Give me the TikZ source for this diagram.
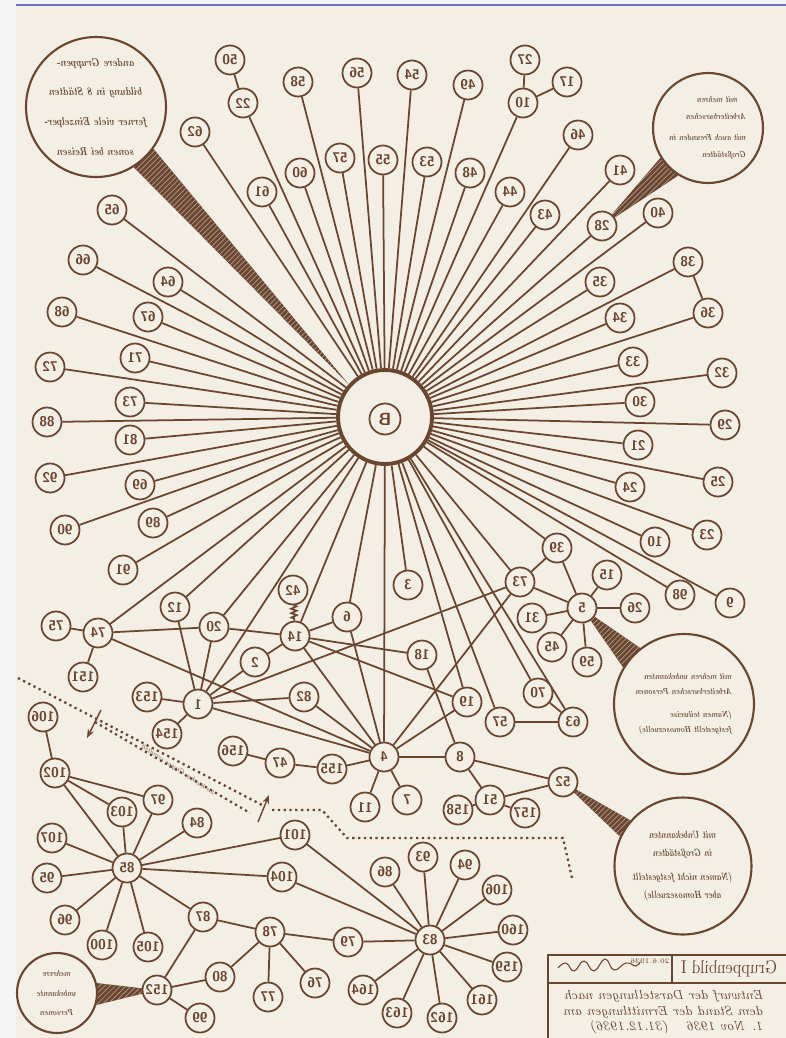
\documentclass[tikz,border=0pt]{standalone}
\usepackage{tikz}
\usetikzlibrary{backgrounds,patterns,decorations.pathmorphing,arrows.meta}

\definecolor{ink}{HTML}{6A4530}
\definecolor{paper}{HTML}{F3EFE4}

\begin{document}
\begin{tikzpicture}[x=0.02cm, y=-0.02cm,
    pers/.style={circle, draw=ink, line width=1pt, fill=paper, minimum size=0.58cm, inner sep=0pt,
        text=ink, font=\sffamily\bfseries\fontsize{8}{8}\selectfont, xscale=-1},
    note/.style={circle, draw=ink, line width=1.2pt, fill=paper, inner sep=0pt},
    notetxt/.style={xscale=-0.8, text=ink, inner sep=0pt},
    ray/.style={draw=ink, line width=1pt},
    border/.style={draw=ink, dotted, line width=1.3pt},
    wedge/.style={fill=ink, postaction={pattern=north east lines, pattern color=paper!50!ink}}]
    \useasboundingbox (0,0) rectangle (786,1038);

    % centre
    \node[circle, draw=ink, line width=2.2pt, fill=paper, minimum size=1.88cm] (B) at (385,417) {};
    \node[pers, minimum size=0.62cm, font=\sffamily\bfseries\fontsize{10}{10}\selectfont] (Bin) at (385,419) {B};

    % persons
    \foreach \n/\t/\x/\y in {p50/50/230/60, p22/22/243/103, p58/58/298/82, p56/56/357/73, p54/54/412/75,
        p49/49/468/85, p27/27/525/60, p17/17/567/82, p10/10/523/103, p46/46/578/135, p62/62/195/132,
        p61/61/262/192, p60/60/300/173, p57/57/340/158, p55/55/383/160, p53/53/427/162, p48/48/470/173,
        p44/44/510/192, p43/43/545/215, p41/41/620/170, p28/28/602/226, p40/40/658/213,
        p65/65/112/210, p66/66/83/260, p64/64/168/282, p68/68/62/312, p67/67/148/317, p72/72/50/367,
        p71/71/135/358, p73/73/130/402, p88/88/47/422, p81/81/130/440, p92/92/50/478, p69/69/140/485,
        p90/90/65/530, p89/89/153/523, p91/91/123/570,
        p35/35/600/282, p38/38/688/262, p36/36/708/313, p34/34/620/318, p33/33/633/362, p32/32/722/373,
        p30/30/640/402, p29/29/725/425, p21/21/638/445, p25/25/718/482, p24/24/630/487, p23/23/707/535,
        p10b/10/655/542, p98/98/680/595, p9/9/730/603, p39/39/557/548}
        \node[pers] (\n) at (\x,\y) {\t};
    \foreach \n/\t/\x/\y in {p3/3/408/585, p6/6/347/617, p14/14/295/636, p42/42/293/590, p20/20/214/627,
        p12/12/175/607, p74/74/98/633, p75/75/56/626, p151/151/83/677, p2/2/255/662, p1/1/198/704,
        p153/153/147/697, p154/154/167/734, p82/82/304/697, p18/18/422/655, p19/19/467/702,
        p57b/57/500/722, p70/70/538/693, p63/63/573/722, p73b/73/520/582, p5/5/582/608, p15/15/607/575,
        p26/26/635/608, p31/31/532/618, p45/45/552/647, p59/59/587/662, p4/4/384/757, p8/8/460/757,
        p156/156/233/751, p47/47/280/763, p155/155/332/769, p11/11/365/807, p7/7/407/800,
        p52/52/563/782, p51/51/490/800, p158/158/458/810, p157/157/525/813}
        \node[pers] (\n) at (\x,\y) {\t};
    \foreach \n/\t/\x/\y in {p106/106/43/717, p102/102/55/773, p97/97/158/800, p103/103/122/812,
        p84/84/197/823, p107/107/52/838, p85/85/127/868, p95/95/47/878, p96/96/65/920, p100/100/102/945,
        p105/105/148/947, p87/87/203/917, p101/101/295/835, p104/104/282/877, p78/78/270/932,
        p79/79/348/942, p80/80/220/977, p152/152/157/990, p99/99/200/1018, p77/77/268/997, p76/76/315/983,
        p83/83/430/940, p86/86/385/872, p93/93/423/857, p94/94/465/865, p106b/106/497/890,
        p160/160/513/930, p159/159/507/967, p161/161/482/1000, p162/162/442/1018, p163/163/397/1013,
        p164/164/363/990}
        \node[pers] (\n) at (\x,\y) {\t};

    % notes
    \node[note, minimum size=2.8cm, label={[notetxt, align=center, font=\bfseries\itshape\fontsize{6.5}{17}\selectfont]center:{andere Gruppen-\\bildung in 8 Städten\\ferner viele Einzelper-\\sonen bei Reisen}}] (ntl) at (96,107) {};
    \node[note, minimum size=2.2cm, label={[notetxt, align=left, font=\bfseries\itshape\fontsize{5}{9.5}\selectfont]center:{\hspace{1.2em}mit mehren\\Arbeiterburschen\\[1.2ex]mit auch Freunden in\\Großstädten}}] (ntr) at (708,128) {};
    \node[note, minimum size=2.8cm, label={[notetxt, align=left, font=\bfseries\itshape\fontsize{5}{8.5}\selectfont]center:{mit mehren unbekannten\\Arbeiterburschen Personen\\[2ex](Namen teilweise\\festgestellt Homosexuelle)}}] (nfv) at (684,704) {};
    \node[note, minimum size=2.74cm, label={[notetxt, xscale=0.92, align=center, font=\bfseries\itshape\fontsize{6}{10}\selectfont]center:{mit Unbekannten\\in Großstädten\\[1.5ex](Namen nicht festgestellt\\aber Homosexuelle)}}] (nfz) at (683,866) {};
    \node[note, minimum size=1.6cm, label={[notetxt, align=center, font=\bfseries\itshape\fontsize{5}{11}\selectfont]center:{mehrere\\unbekannte\\Personen}}] (nlb) at (57,993) {};

    % frame of the title
    \draw[ink, line width=1pt] (548,955) rectangle (800,1060);
    \draw[ink, line width=1pt] (548,983) -- (800,983);
    \draw[ink, line width=1pt] (672,955) -- (672,983);
    \node[notetxt, xscale=1.05, font=\fontsize{10.5}{11}\selectfont] (titel) at (729,969) {Gruppenbild I};
    \node[notetxt, xscale=1.25, align=left, font=\itshape\fontsize{7.5}{8.6}\selectfont] (stand) at (664,1012)
        {Entwurf der Darstellungen nach\\dem Stand der Ermittlungen am\\1. Nov 1936 \quad (31.12.1936)};
    \node[notetxt, xscale=1.25, font=\fontsize{4}{4}\selectfont] (datum) at (650,961) {20.6.1936};
    \draw[ink, line width=0.6pt] plot[smooth, tension=0.8] coordinates {(558,968) (566,963) (574,971)
        (584,961) (594,971) (605,959) (614,970) (626,963) (636,966) (640,962)};

    % dotted border of the group
    \draw[border] (18,678) -- (262,805);
    \draw[border] (95,722) -- (250,813);
    \draw[border] (272,810) -- (322,810) -- (347,838) -- (563,838) -- (572,878);
    \draw[ink, line width=0.8pt, -{Stealth[length=5pt]}] (101,710) -- (87,738);
    \draw[ink, line width=0.8pt, -{Stealth[length=5pt]}] (258,822) -- (269,795);
    \node[notetxt, rotate=28, font=\itshape\fontsize{4}{5}\selectfont] (grenze) at (178,770)
        {bis hierher Gruppe ermittelt};

    \begin{scope}[on background layer]
        \fill[gray!8] (0,0) rectangle (786,1038);
        \fill[paper] (16,6) rectangle (786,1038);
        \draw[blue!40!gray!80, line width=0.6pt] (16,5) -- (786,5);

        \foreach \n in {p22,p58,p56,p54,p49,p10,p46,p62,p61,p60,p57,p55,p53,p48,p44,p43,p41,p28,p40,
            p35,p38,p36,p34,p33,p32,p30,p29,p21,p25,p24,p23,p10b,p98,p9,p39,p73b,
            p65,p66,p64,p68,p67,p72,p71,p73,p88,p81,p92,p69,p90,p89,p91,
            p74,p12,p20,p1,p14,p6,p3,p4,p19,p57b,p70,p63}
            \draw[ray] (B) -- (\n);

        \foreach \a/\b in {p22/p50, p10/p27, p10/p17, p38/p36, p106/p102,
            p74/p75, p74/p151, p74/p20, p20/p14, p74/p4,
            p12/p1, p20/p1, p2/p1, p14/p2, p1/p153, p1/p154, p1/p82, p82/p4, p1/p4, p1/p73b,
            p14/p6, p14/p18, p14/p19, p14/p4, p6/p4, p18/p8, p19/p4, p4/p8, p4/p155, p155/p47,
            p47/p156, p4/p11, p4/p7, p4/p73b,
            p73b/p39, p73b/p5, p39/p5, p5/p15, p5/p26, p5/p31, p5/p45, p5/p59, p57b/p63, p70/p63,
            p8/p52, p8/p51, p51/p52, p51/p158, p51/p157,
            p85/p102, p85/p103, p85/p97, p102/p103, p102/p97, p85/p84, p85/p107, p85/p95, p85/p96,
            p85/p100, p85/p105, p85/p87, p85/p101, p85/p104,
            p87/p78, p87/p152, p78/p79, p78/p80, p78/p77, p78/p76, p80/p152, p152/p99,
            p83/p86, p83/p93, p83/p94, p83/p106b, p83/p160, p83/p159, p83/p161, p83/p162,
            p83/p163, p83/p164, p83/p79, p83/p101, p83/p104}
            \draw[ray] (\a) -- (\b);
        \draw[ray, decorate, decoration={zigzag, amplitude=1.5pt, segment length=2.5pt}] (p42) -- (p14);

        % hatched ribbons
        \path[wedge] (ntl.-36) -- (B.138) -- (ntl.-58) -- cycle;
        \path[wedge] (ntr.212) -- (p28.center) -- (ntr.238) -- cycle;
        \path[wedge] (nfv.128) -- (p5.center) -- (nfv.149) -- cycle;
        \path[wedge] (nfz.139) -- (p52.center) -- (nfz.155) -- cycle;
        \path[wedge] (nlb.14) -- (p152.center) -- (nlb.-17) -- cycle;
    \end{scope}
\end{tikzpicture}
\end{document}
